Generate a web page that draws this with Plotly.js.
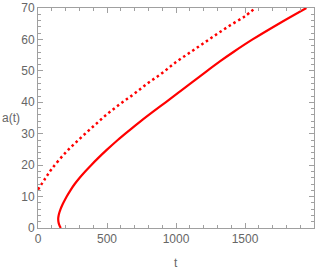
<!DOCTYPE html>
<html>
<head>
<meta charset="utf-8">
<script src="https://cdn.plot.ly/plotly-3.0.1.min.js"></script>
<style>html,body{margin:0;padding:0;background:#fff}#chart{width:327px;height:273px}</style>
</head>
<body>
<div id="chart"></div>
<script>
// dotted curve: t vs a(t)
var dotT = [0, 50, 100, 200, 300, 400, 500, 600, 700, 800, 900, 1000, 1100, 1200, 1300, 1400, 1500, 1575];
var dotA = [12.2, 15.6, 18.8, 24.0, 28.3, 32.3, 36.2, 39.6, 42.8, 46.2, 49.3, 52.8, 55.8, 58.8, 61.8, 64.7, 67.4, 70];
// solid curve (turns back near the bottom), read as t for each a
var solidA = [0, 1, 2, 3, 4, 5, 6, 7, 8, 10, 12, 14, 16, 18, 20, 22, 25, 28, 31, 34, 37, 40, 43, 46, 50, 53, 56, 60, 65, 70];
var solidT = [165, 154, 148, 146.5, 149.5, 155.5, 163.5, 173, 184, 208, 235, 266, 302, 342, 385, 430, 502, 578, 660, 745, 834, 925, 1015, 1106, 1226, 1318, 1416, 1555, 1745, 1945];
var xTicks = [0, 500, 1000, 1500, 2000];
var yTicks = [0, 10, 20, 30, 40, 50, 60, 70];

var traces = [
  {x: dotT, y: dotA, mode: 'lines', line: {color: '#ff0000', width: 2.5, dash: '2.5px,3px', shape: 'spline'}, hoverinfo: 'none'},
  {x: solidT, y: solidA, mode: 'lines', line: {color: '#ff0000', width: 2.2, shape: 'spline'}, hoverinfo: 'none'}
];
var axisCommon = {
  showgrid: false, zeroline: false, showline: true, linecolor: '#a0a0a0', linewidth: 1,
  mirror: 'ticks', ticks: 'inside', ticklen: 5, tickcolor: '#a0a0a0', tickwidth: 1,
  tickfont: {family: 'Liberation Sans, Arial, sans-serif', size: 12, color: '#666'}
};
var layout = {
  width: 327, height: 273,
  margin: {l: 38, r: 13, t: 8, b: 45},
  paper_bgcolor: '#fff', plot_bgcolor: '#fff',
  showlegend: false,
  xaxis: Object.assign({}, axisCommon, {range: [0, 2000], tickvals: xTicks, ticktext: xTicks.map(String),
    minor: {dtick: 100, tick0: 0, ticks: 'inside', ticklen: 3, tickcolor: '#a0a0a0', showgrid: false}}),
  yaxis: Object.assign({}, axisCommon, {range: [0, 70], tickvals: yTicks, ticktext: yTicks.map(String),
    minor: {dtick: 2, tick0: 0, ticks: 'inside', ticklen: 3, tickcolor: '#a0a0a0', showgrid: false}}),
  annotations: [
    {text: 't', xref: 'paper', yref: 'paper', x: 0.5, y: -0.159, yanchor: 'middle', showarrow: false,
     font: {family: 'Liberation Sans, Arial, sans-serif', size: 12, color: '#666'}},
    {text: 'a(t)', xref: 'paper', yref: 'paper', x: -0.137, xanchor: 'left', y: 0.5, showarrow: false,
     font: {family: 'Liberation Sans, Arial, sans-serif', size: 12, color: '#666'}}
  ]
};
Plotly.newPlot('chart', traces, layout, {staticPlot: true, displayModeBar: false});
</script>
</body>
</html>
